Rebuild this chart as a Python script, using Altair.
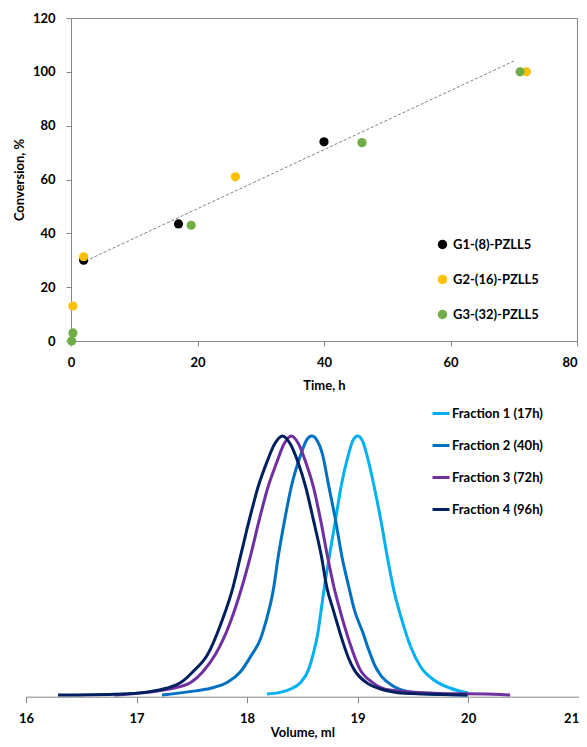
import altair as alt
import pandas as pd

# ---------------- Top panel: conversion vs time ----------------
series_names = ["G1-(8)-PZLL5", "G2-(16)-PZLL5", "G3-(32)-PZLL5"]
series_colors = ["#000000", "#FFC000", "#70AD47"]

g1_time = [2, 17, 40]
g1_conv = [30, 43.5, 74]
g2_time = [0.3, 2, 26, 72]
g2_conv = [13, 31.3, 61, 100]
g3_time = [0.1, 0.3, 19, 46, 71]
g3_conv = [0, 3, 43, 73.7, 100]

trend_time = [3, 70]
trend_conv = [30.5, 104]

time_ticks = [0, 20, 40, 60, 80]
conv_ticks = [0, 20, 40, 60, 80, 100, 120]

# ---------------- Bottom panel: GPC traces ----------------
fraction_names = ["Fraction 1 (17h)", "Fraction 2 (40h)", "Fraction 3 (72h)", "Fraction 4 (96h)"]
fraction_colors = ["#00B0F0", "#0070C0", "#7030A0", "#002060"]

f1_vol = [18.18, 18.30, 18.40, 18.48, 18.555, 18.60, 18.64, 18.67, 18.70, 18.74, 18.80, 18.85, 18.92,
          18.957, 19.00, 19.043, 19.08, 19.15, 19.21, 19.27, 19.33, 19.40, 19.48, 19.57, 19.69, 19.84, 20.00]
f1_int = [0.004, 0.010, 0.024, 0.046, 0.097, 0.161, 0.238, 0.328, 0.418, 0.525, 0.676, 0.804, 0.933,
          0.982, 1.000, 0.982, 0.933, 0.804, 0.676, 0.530, 0.400, 0.290, 0.186, 0.109, 0.058, 0.026, 0.008]

f2_vol = [17.23, 17.48, 17.67, 17.83, 17.94, 18.04, 18.12, 18.17, 18.24, 18.28, 18.34, 18.40, 18.49,
          18.535, 18.585, 18.635, 18.68, 18.74, 18.80, 18.86, 18.92, 18.97, 19.05, 19.10, 19.16, 19.22,
          19.32, 19.45, 19.65, 20.00]
f2_int = [0.000, 0.013, 0.026, 0.051, 0.090, 0.154, 0.215, 0.283, 0.412, 0.530, 0.676, 0.804, 0.933,
          0.982, 1.000, 0.982, 0.933, 0.804, 0.676, 0.530, 0.418, 0.330, 0.238, 0.175, 0.110, 0.070,
          0.035, 0.014, 0.004, 0.000]

f3_vol = [16.80, 17.33, 17.50, 17.60, 17.71, 17.85, 17.95, 18.035, 18.11, 18.19, 18.27, 18.335, 18.40,
          18.465, 18.53, 18.60, 18.665, 18.73, 18.785, 18.84, 18.93, 19.02, 19.13, 19.29, 19.69, 20.29, 20.38]
f3_int = [0.000, 0.026, 0.051, 0.090, 0.154, 0.283, 0.412, 0.544, 0.676, 0.804, 0.900, 0.970, 1.000,
          0.970, 0.900, 0.804, 0.676, 0.530, 0.418, 0.328, 0.200, 0.100, 0.050, 0.019, 0.007, 0.002, 0.000]

f4_vol = [16.29, 16.80, 17.12, 17.27, 17.41, 17.51, 17.64, 17.77, 17.87, 17.945, 18.02, 18.10, 18.18,
          18.25, 18.32, 18.39, 18.46, 18.53, 18.60, 18.675, 18.72, 18.78, 18.87, 18.92, 18.97, 19.09,
          19.20, 19.35, 19.60, 19.99]
f4_int = [0.000, 0.003, 0.013, 0.026, 0.051, 0.090, 0.154, 0.283, 0.412, 0.544, 0.676, 0.804, 0.900,
          0.970, 1.000, 0.970, 0.900, 0.804, 0.676, 0.530, 0.418, 0.328, 0.200, 0.140, 0.097, 0.045,
          0.024, 0.010, 0.004, 0.000]

volume_ticks = [16, 17, 18, 19, 20, 21]

FONT = "Lato"
GREY = "#868686"

# ---------- build tables ----------
pts = []
for name, ts, cs in zip(series_names, [g1_time, g2_time, g3_time], [g1_conv, g2_conv, g3_conv]):
    for t, c in zip(ts, cs):
        pts.append({"series": name, "time": t, "conv": c})
pts_df = pd.DataFrame(pts)
pts_df["order"] = range(len(pts_df))
trend_df = pd.DataFrame({"time": trend_time, "conv": trend_conv})

gpc = []
for name, vs, ys in zip(fraction_names, [f1_vol, f2_vol, f3_vol, f4_vol], [f1_int, f2_int, f3_int, f4_int]):
    for v, y in zip(vs, ys):
        gpc.append({"fraction": name, "volume": v, "intensity": y})
gpc_df = pd.DataFrame(gpc)

# ---------- geometry (one plot area holding both panels) ----------
W, H = 551, 678.7          # whole plotting group
TOP_H = 323
TOP_X_RANGE = [45, 551]    # top panel spans x = 45..551 within the group
TOP_Y_RANGE = [TOP_H, 0]   # top panel spans y = 0..323
BOT_X_RANGE = [0, 552.7]
BOT_Y_RANGE = [677, 418]   # baseline / peak of GPC traces
PAD_LEFT, PAD_TOP = 18, 10
SVG_W, SVG_H = 571, 731

axis_style = dict(
    grid=False, domainColor=GREY, tickColor=GREY,
    labelFont=FONT, labelFontWeight="bold", labelFontSize=13, labelColor="black",
    titleFont=FONT, titleFontWeight="bold", titleFontSize=13, titleColor="black",
)
frame_style = dict(grid=False, domainColor=GREY, ticks=False, labels=False, title=None)

top_x_scale = alt.Scale(domain=[0, 80], nice=False, range=TOP_X_RANGE)
top_y_scale = alt.Scale(domain=[0, 120], nice=False, range=TOP_Y_RANGE)

trend = alt.Chart(trend_df).mark_line(color="#7F7F7F", strokeWidth=1, strokeDash=[3, 2]).encode(
    x=alt.X("time:Q", scale=top_x_scale,
            axis=alt.Axis(orient="bottom", offset=-(H - TOP_H), values=time_ticks, title="Time, h",
                          tickSize=5, labelPadding=10, titlePadding=10,
                          labelAlign={"condition": {"test": "datum.value == 80", "value": "right"},
                                      "value": "center"},
                          **axis_style)),
    y=alt.Y("conv:Q", scale=top_y_scale,
            axis=alt.Axis(orient="left", offset=-45, values=conv_ticks, title="Conversion, %",
                          tickSize=5, labelPadding=11, titlePadding=6, **axis_style)),
)

points = alt.Chart(pts_df).mark_circle(size=85, opacity=1).encode(
    x=alt.X("time:Q", scale=top_x_scale, axis=alt.Axis(orient="top", **frame_style)),
    y=alt.Y("conv:Q", scale=top_y_scale, axis=alt.Axis(orient="right", **frame_style)),
    color=alt.Color("series:N", scale=alt.Scale(domain=series_names, range=series_colors),
                    legend=alt.Legend(title=None, orient="none", legendX=410, legendY=220,
                                      symbolType="circle", symbolSize=90, symbolOpacity=1,
                                      labelFont=FONT, labelFontWeight="bold", labelFontSize=13,
                                      labelColor="black", rowPadding=21, labelOffset=4, padding=0)),
    order="order:Q",
)

curves = alt.Chart(gpc_df).mark_line(strokeWidth=3, interpolate="monotone").encode(
    x=alt.X("volume:Q", scale=alt.Scale(domain=[16, 21], nice=False, range=BOT_X_RANGE),
            axis=alt.Axis(orient="bottom", values=volume_ticks, title="Volume, ml",
                          tickSize=6, labelPadding=10, titlePadding=1,
                          labelAlign={"condition": {"test": "datum.value == 21", "value": "right"},
                                      "value": "center"},
                          **axis_style)),
    y=alt.Y("intensity:Q", scale=alt.Scale(domain=[0, 1], nice=False, zero=False, range=BOT_Y_RANGE),
            axis=None),
    color=alt.Color("fraction:N", scale=alt.Scale(domain=fraction_names, range=fraction_colors),
                    legend=alt.Legend(title=None, orient="none", legendX=405, legendY=385.5,
                                      symbolType="stroke", symbolSize=289, symbolStrokeWidth=3,
                                      labelFont=FONT, labelFontWeight="bold", labelFontSize=13,
                                      labelColor="black", rowPadding=15, labelOffset=1, padding=0)),
    detail="fraction:N",
)

chart = alt.layer(trend, points, curves).resolve_scale(
    x="independent", y="independent", color="independent"
).resolve_axis(x="independent", y="independent").properties(
    width=W, height=H,
    autosize=alt.AutoSizeParams(type="none"),
    padding={"left": PAD_LEFT, "top": PAD_TOP, "right": SVG_W - PAD_LEFT - W,
             "bottom": SVG_H - PAD_TOP - H},
).configure(font=FONT).configure_view(strokeWidth=0)

chart.save("out.html", embed_options={"renderer": "svg", "actions": False})
